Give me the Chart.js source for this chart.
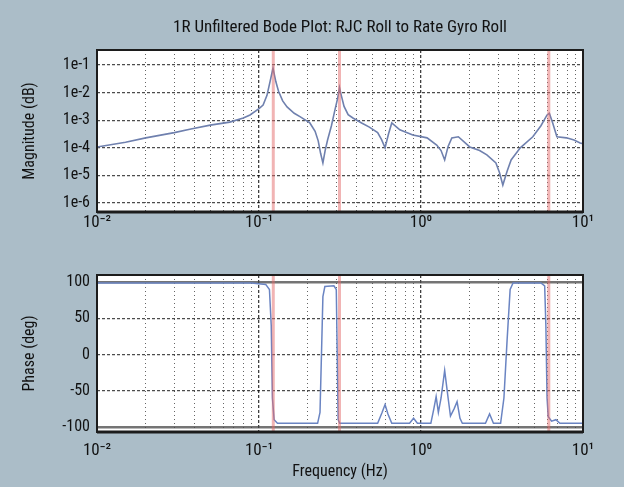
<!DOCTYPE html>
<html>
<head>
<meta charset="utf-8">
<script src="https://cdn.jsdelivr.net/npm/chart.js@4.4.1/dist/chart.umd.min.js"></script>
<style>
  html, body { margin: 0; padding: 0; background: #abbdc8; }
  #wrap { position: relative; width: 624px; height: 487px; }
  #magChart { position: absolute; left: 0; top: 0; }
  #phaseChart { position: absolute; left: 0; top: 245px; }
</style>
</head>
<body>
<div id="wrap">
  <canvas id="magChart" width="624" height="245"></canvas>
  <canvas id="phaseChart" width="624" height="242"></canvas>
</div>
<script>
// frequency axis (Hz)
const decadeTicks = [0.01, 0.1, 1, 10];
const decadeLabels = ['10⁻²', '10⁻¹', '10⁰', '10¹'];

// magnitude axis
const magTicks = [1e-6, 1e-5, 1e-4, 1e-3, 1e-2, 1e-1];
const magLabels = ['1e-6', '1e-5', '1e-4', '1e-3', '1e-2', '1e-1'];

// phase axis
const phaseTicks = [-100, -50, 0, 50, 100];

// red mode markers (Hz)
const modeFreqs = [0.1225, 0.314, 6.15];

// magnitude response
const magFreq = [0.010, 0.015, 0.020, 0.030, 0.038, 0.050, 0.066, 0.080, 0.088, 0.100,
  0.106, 0.112, 0.117, 0.122, 0.127, 0.132, 0.140, 0.149, 0.165, 0.180,
  0.206, 0.222, 0.232, 0.240, 0.248, 0.256, 0.265, 0.280, 0.295, 0.306,
  0.314, 0.322, 0.335, 0.355, 0.380, 0.430, 0.480, 0.540, 0.570, 0.600,
  0.630, 0.660, 0.740, 0.890, 1.090, 1.250, 1.330, 1.400, 1.470, 1.550,
  1.700, 2.000, 2.300, 2.550, 2.900, 3.050, 3.200, 3.400, 3.600, 4.100,
  4.900, 5.500, 6.000, 6.200, 6.500, 6.900, 7.900, 8.800, 9.600, 10.00];
const magValue = [1.07e-4, 1.58e-4, 2.29e-4, 3.55e-4, 4.79e-4, 6.61e-4, 8.51e-4, 1.20e-3, 1.55e-3, 2.63e-3,
  3.55e-3, 7.94e-3, 2.51e-2, 7.76e-2, 2.51e-2, 1.12e-2, 5.01e-3, 3.02e-3, 1.78e-3, 1.32e-3,
  7.94e-4, 3.98e-4, 1.78e-4, 6.31e-5, 2.82e-5, 7.94e-5, 1.91e-4, 6.31e-4, 2.51e-3, 6.31e-3,
  1.51e-2, 7.94e-3, 3.16e-3, 1.58e-3, 1.20e-3, 7.94e-4, 5.62e-4, 3.55e-4, 2.00e-4, 1.00e-4,
  3.16e-4, 7.94e-4, 4.47e-4, 2.88e-4, 2.29e-4, 1.26e-4, 7.94e-5, 3.63e-5, 1.12e-4, 2.29e-4,
  2.51e-4, 1.07e-4, 7.94e-5, 5.50e-5, 2.82e-5, 1.26e-5, 4.47e-6, 1.41e-5, 3.63e-5, 1.00e-4,
  2.51e-4, 6.31e-4, 1.55e-3, 1.78e-3, 7.94e-4, 2.51e-4, 2.29e-4, 1.91e-4, 1.48e-4, 1.41e-4];

// phase response
const phaseFreq = [0.010, 0.090, 0.110, 0.116, 0.119, 0.121, 0.124, 0.130, 0.200, 0.230,
  0.238, 0.243, 0.248, 0.255, 0.290, 0.300, 0.304, 0.308, 0.315, 0.540,
  0.575, 0.600, 0.625, 0.660, 0.850, 0.900, 0.950, 1.150, 1.200, 1.240,
  1.280, 1.330, 1.400, 1.470, 1.520, 1.600, 1.670, 1.740, 1.800, 2.500,
  2.650, 2.800, 3.100, 3.250, 3.400, 3.550, 3.700, 5.500, 5.800, 5.900,
  6.000, 6.100, 6.400, 6.800, 7.200, 10.00];
const phaseValue = [99, 99, 97, 90, 40, -60, -90, -95, -95, -95,
  -80, 0, 80, 94, 95, 90, 0, -90, -95, -95,
  -80, -69, -82, -95, -95, -88, -95, -95, -75, -58,
  -80, -60, -22, -60, -85, -75, -65, -88, -95, -95,
  -82, -95, -95, -60, 20, 90, 99, 99, 95, 40,
  -60, -86, -92, -90, -95, -95];

const magMin = 4.7e-7, magMax = 0.35;
const phaseMin = -107, phaseMax = 110;

const FONT = '"Roboto Condensed", "Noto Sans Condensed", "Liberation Sans Narrow", Roboto, sans-serif';
Chart.defaults.font.family = FONT;
Chart.defaults.color = '#111';

// vertical grid: 1..9 of every decade
const freqGrid = [];
for (let d = 0; d < 3; d++) {
  for (let k = 1; k < 10; k++) freqGrid.push(+(k * decadeTicks[d]).toPrecision(3));
}
freqGrid.push(10);

function decadeIndex(v) {
  return decadeTicks.findIndex(d => Math.abs(v / d - 1) < 1e-6);
}

const plotFrame = {
  id: 'plotFrame',
  beforeDraw(chart) {
    const {ctx, chartArea: a} = chart;
    ctx.save();
    ctx.fillStyle = '#ffffff';
    ctx.fillRect(a.left, a.top, a.right - a.left, a.bottom - a.top);
    ctx.restore();
  },
  afterDraw(chart) {
    const {ctx, chartArea: a} = chart;
    ctx.save();
    ctx.strokeStyle = '#1c1c1c';
    ctx.lineWidth = 2;
    ctx.strokeRect(a.left, a.top, a.right - a.left, a.bottom - a.top);
    ctx.lineWidth = 3;
    ctx.beginPath();
    ctx.moveTo(a.left, a.bottom);
    ctx.lineTo(a.right, a.bottom);
    ctx.stroke();
    ctx.restore();
  }
};

function modeLines(yMin, yMax) {
  return modeFreqs.map(f => ({
    data: [{x: f, y: yMin}, {x: f, y: yMax}],
    borderColor: 'rgba(228, 105, 105, 0.5)',
    borderWidth: 3,
    pointRadius: 0
  }));
}

function freqAxis(height, pad) {
  return {
    type: 'logarithmic',
    min: 0.01,
    max: 10,
    afterBuildTicks: s => { s.ticks = freqGrid.map(v => ({value: v})); },
    afterFit: s => { s.height = height; },
    grid: {
      drawTicks: false,
      lineWidth: c => (c.tick && decadeIndex(c.tick.value) >= 0) ? 1.3 : 1,
      color: c => (c.tick && decadeIndex(c.tick.value) >= 0) ? 'rgba(0,0,0,0.75)' : 'rgba(0,0,0,0.6)'
    },
    border: {
      display: false,
      dash: c => (c.tick && decadeIndex(c.tick.value) >= 0) ? [3, 2] : [1, 3]
    },
    ticks: {
      autoSkip: false,
      maxRotation: 0,
      padding: pad,
      font: {size: 17},
      color: '#111',
      callback: v => {
        const i = decadeIndex(v);
        return i >= 0 ? decadeLabels[i] : '';
      }
    }
  };
}

// magnitude plot
new Chart(document.getElementById('magChart'), {
  type: 'line',
  data: {
    datasets: [
      ...modeLines(magMin, magMax),
      {
        data: magFreq.map((f, i) => ({x: f, y: magValue[i]})),
        borderColor: '#6f80ae',
        borderWidth: 1.6,
        pointRadius: 0
      }
    ]
  },
  options: {
    responsive: false,
    animation: false,
    layout: {padding: {left: 0, right: 41, top: 0, bottom: 0}},
    plugins: {
      legend: {display: false},
      tooltip: {enabled: false},
      title: {
        display: true,
        fullSize: false,
        text: '1R Unfiltered Bode Plot: RJC Roll to Rate Gyro Roll',
        color: '#111',
        font: {size: 17, weight: 'normal'},
        padding: {top: 18, bottom: 11.6}
      }
    },
    scales: {
      x: freqAxis(33, 1),
      y: {
        type: 'logarithmic',
        min: magMin,
        max: magMax,
        afterBuildTicks: s => { s.ticks = magTicks.map(v => ({value: v})); },
        afterFit: s => { s.width = 97; },
        grid: {drawTicks: false, color: 'rgba(0,0,0,0.7)', lineWidth: 1.2},
        border: {display: false, dash: [3, 2]},
        ticks: {
          padding: 7,
          font: {size: 16},
          color: '#111',
          callback: v => magLabels[magTicks.findIndex(t => Math.abs(v / t - 1) < 1e-6)] || ''
        },
        title: {
          display: true,
          text: 'Magnitude (dB)',
          color: '#111',
          font: {size: 16},
          padding: {top: 20, bottom: 0}
        }
      }
    }
  },
  plugins: [plotFrame]
});

// phase plot
new Chart(document.getElementById('phaseChart'), {
  type: 'line',
  data: {
    datasets: [
      ...modeLines(phaseMin, phaseMax),
      {
        data: phaseFreq.map((f, i) => ({x: f, y: phaseValue[i]})),
        borderColor: '#6a84c2',
        borderWidth: 1.5,
        pointRadius: 0
      }
    ]
  },
  options: {
    responsive: false,
    animation: false,
    layout: {padding: {left: 0, right: 41, top: 30, bottom: 0}},
    plugins: {
      legend: {display: false},
      tooltip: {enabled: false}
    },
    scales: {
      x: {
        ...freqAxis(55, 9),
        title: {
          display: true,
          text: 'Frequency (Hz)',
          color: '#111',
          font: {size: 16},
          padding: {top: 0, bottom: 5}
        }
      },
      y: {
        type: 'linear',
        min: phaseMin,
        max: phaseMax,
        afterBuildTicks: s => { s.ticks = phaseTicks.map(v => ({value: v})); },
        afterFit: s => { s.width = 97; },
        grid: {
          drawTicks: false,
          lineWidth: c => (c.tick && Math.abs(c.tick.value) === 100) ? 2.5 : 1.2,
          color: c => (c.tick && Math.abs(c.tick.value) === 100) ? 'rgba(70,70,70,0.75)' : 'rgba(0,0,0,0.7)'
        },
        border: {
          display: false,
          dash: c => (c.tick && Math.abs(c.tick.value) === 100) ? [] : [3, 2]
        },
        ticks: {
          padding: 7,
          font: {size: 16},
          color: '#111'
        },
        title: {
          display: true,
          text: 'Phase (deg)',
          color: '#111',
          font: {size: 16},
          padding: {top: 20, bottom: 0}
        }
      }
    }
  },
  plugins: [plotFrame]
});
</script>
</body>
</html>
